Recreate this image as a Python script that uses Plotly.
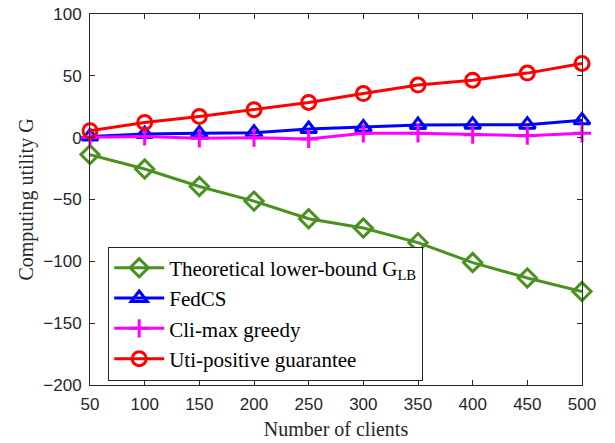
import plotly.graph_objects as go

clients = [50, 100, 150, 200, 250, 300, 350, 400, 450, 500]
lower_bound = [-13.7, -25.3, -39.5, -51.3, -65.6, -73.1, -84.9, -101.0, -113.5, -124.4]
fedcs = [1.0, 3.0, 3.5, 4.0, 7.0, 8.3, 10.2, 10.5, 10.5, 14.0]
climax = [0.3, 1.0, -0.5, 0.0, -1.0, 3.5, 3.5, 2.4, 1.6, 3.5]
uti_pos = [5.6, 12.3, 17.2, 22.6, 28.5, 35.7, 42.5, 46.5, 52.2, 60.0]

names = ["Theoretical lower-bound G<sub>LB</sub>", "FedCS", "Cli-max greedy", "Uti-positive guarantee"]
series = [lower_bound, fedcs, climax, uti_pos]
colors = ["#4a9120", "#0000ff", "#ff00ff", "#ff0000"]
symbols = ["diamond-open", "triangle-up-open", "cross-thin-open", "circle-open"]
sizes = [14, 14, 13, 14]

fig = go.Figure()
for n, s, c, sym, sz in zip(names, series, colors, symbols, sizes):
    fig.add_trace(go.Scatter(
        x=clients, y=s, name=n, mode="lines+markers",
        line=dict(color=c, width=3),
        marker=dict(symbol=sym, size=sz, color=c, line=dict(color=c, width=3)),
        cliponaxis=False,
    ))

axis_common = dict(
    showline=True, linecolor="#262626", linewidth=1, mirror="ticks",
    ticks="inside", ticklen=5, tickcolor="#262626", showgrid=False, zeroline=False,
    tickfont=dict(family="Liberation Sans", size=17, color="#262626"),
    automargin=False, ticklabelstandoff=4,
)

serif = "Liberation Serif"

fig.update_layout(
    width=615, height=443,
    margin=dict(l=90, r=33, t=14, b=58),
    plot_bgcolor="white", paper_bgcolor="white",
    showlegend=True,
    legend=dict(
        x=0.037, y=0.373, xanchor="left", yanchor="top",
        bordercolor="#262626", borderwidth=1, bgcolor="white",
        font=dict(family=serif, size=21, color="black"),
        tracegroupgap=0, itemwidth=50,
    ),
    xaxis=dict(range=[50, 500], tickvals=clients,
               title=dict(text="Number of clients", standoff=8,
                          font=dict(family=serif, size=20, color="#262626")),
               **axis_common),
    yaxis=dict(range=[-200, 100], tickvals=[-200, -150, -100, -50, 0, 50, 100],
               title=dict(text="Computing utility G", standoff=4,
                          font=dict(family=serif, size=20, color="#262626")),
               **axis_common),
)

fig.write_html("out.html")
